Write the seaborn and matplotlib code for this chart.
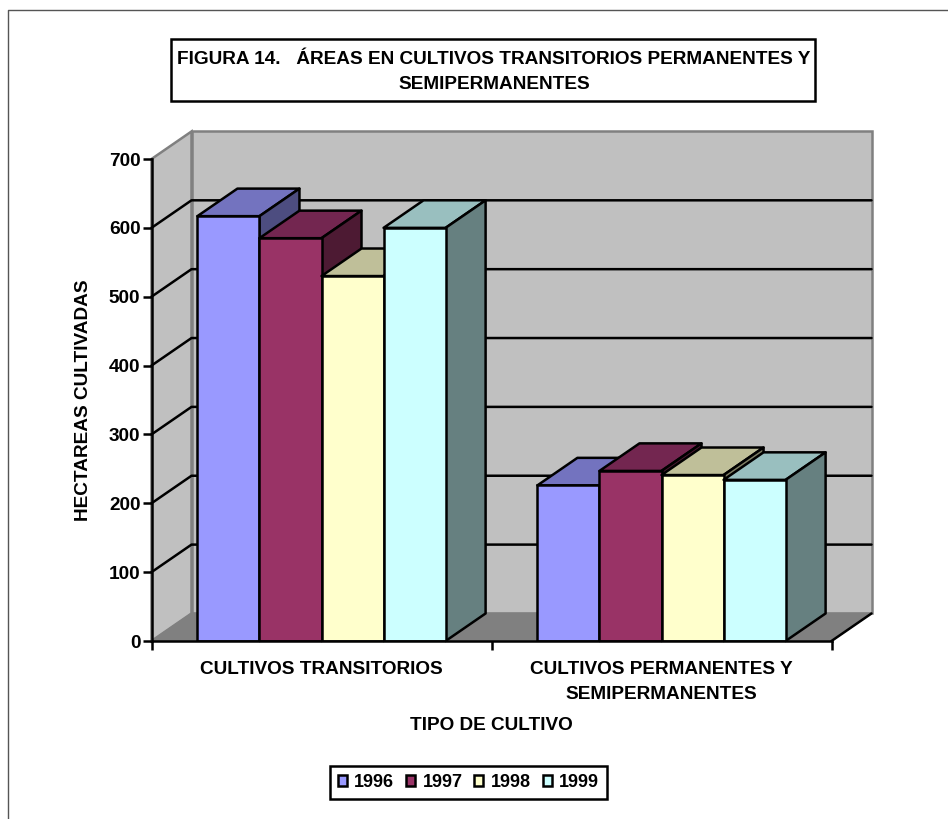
import matplotlib
matplotlib.use('Agg')
import matplotlib.pyplot as plt
from matplotlib.patches import Polygon, Rectangle
from matplotlib.lines import Line2D
import pandas as pd
import seaborn as sns

# values
cultivos = ['CULTIVOS TRANSITORIOS', 'CULTIVOS PERMANENTES Y\nSEMIPERMANENTES']
anios = ['1996', '1997', '1998', '1999']
valores_1996 = [617, 226]
valores_1997 = [585, 247]
valores_1998 = [530, 241]
valores_1999 = [600, 234]
y_ticks = [0, 100, 200, 300, 400, 500, 600, 700]

colores = ['#9999FF', '#993366', '#FFFFCC', '#CCFFFF']
colores_techo = ['#7373BF', '#732650', '#BFBF99', '#99BFBF']
colores_lado = ['#4D4D80', '#4D1A33', '#808066', '#668080']

sns.set_theme(style='white')
plt.rcParams['font.family'] = ['Liberation Sans', 'DejaVu Sans']
plt.rcParams['font.weight'] = 'bold'

rows = []
for anio, vals in zip(anios, [valores_1996, valores_1997, valores_1998, valores_1999]):
    for c, v in zip(cultivos, vals):
        rows.append({'cultivo': c, 'anio': anio, 'hectareas': v})
df = pd.DataFrame(rows)

W, H = 948, 819
LW = 1.8
FS = 13.7
fig = plt.figure(figsize=(W / 100, H / 100), dpi=100)
ax = fig.add_axes([151.5 / W, (H - 641) / H, 680 / W, 482 / H])

ax = sns.barplot(data=df, x='cultivo', y='hectareas', hue='anio', hue_order=anios,
                 order=cultivos, palette=colores, saturation=1, width=0.73,
                 edgecolor='black', linewidth=LW, ax=ax)
ax.set_xlim(-0.5, 1.5)
ax.set_ylim(0, 700)

# fake depth, same as the excel 3d look
dx = 40 / 340
dy = 40

x0, x1 = -0.5, 1.5
ax.add_patch(Polygon([(x0 + dx, dy), (x1 + dx, dy), (x1 + dx, 700 + dy), (x0 + dx, 700 + dy)],
                     closed=True, fc='#C0C0C0', ec='#808080', lw=LW, clip_on=False, zorder=0.5))
ax.add_patch(Polygon([(x0, 0), (x0 + dx, dy), (x0 + dx, 700 + dy), (x0, 700)],
                     closed=True, fc='#C0C0C0', ec='#808080', lw=LW, clip_on=False, zorder=0.5))
ax.add_patch(Polygon([(x0, 0), (x1, 0), (x1 + dx, dy), (x0 + dx, dy)],
                     closed=True, fc='#808080', ec='#808080', lw=1.0, clip_on=False, zorder=0.6))
ax.add_line(Line2D([x1, x1 + dx], [0, dy], color='black', lw=LW, clip_on=False, zorder=0.7))
for t in y_ticks[1:-1]:
    ax.add_line(Line2D([x0, x0 + dx, x1 + dx], [t, t + dy, t + dy], color='black', lw=LW,
                       clip_on=False, zorder=0.8))

# front faces come from seaborn, add top and side to each one
barras = []
for i, cont in enumerate(ax.containers):
    for p in cont:
        barras.append((p.get_x(), p, i))
barras.sort(key=lambda b: b[0])
for z, (x, p, i) in enumerate(barras):
    w = p.get_width()
    h = p.get_height()
    zo = 3 + z * 0.1
    p.set_zorder(zo + 0.02)
    ax.add_patch(Polygon([(x, h), (x + w, h), (x + w + dx, h + dy), (x + dx, h + dy)], closed=True,
                         fc=colores_techo[i], ec='black', lw=LW, joinstyle='round', clip_on=False, zorder=zo))
    ax.add_patch(Polygon([(x + w, 0), (x + w + dx, dy), (x + w + dx, h + dy), (x + w, h)], closed=True,
                         fc=colores_lado[i], ec='black', lw=LW, joinstyle='round', clip_on=False, zorder=zo))

sns.despine(ax=ax)
for s in ['left', 'bottom']:
    ax.spines[s].set_color('black')
    ax.spines[s].set_linewidth(LW)
    ax.spines[s].set_zorder(6)

ax.set_yticks(y_ticks)
ax.set_xticks([0, 1], labels=cultivos)
ax.set_xticks([-0.5, 0.5, 1.5], minor=True)
ax.tick_params(axis='y', left=True, length=6.5, width=LW, color='black', labelsize=FS, pad=1.5, labelcolor='black')
ax.tick_params(axis='x', which='major', bottom=False, length=0, labelsize=FS, pad=14.5, labelcolor='black')
ax.tick_params(axis='x', which='minor', bottom=True, length=6.5, width=LW, color='black')
for lab in ax.get_xticklabels() + ax.get_yticklabels():
    lab.set_fontweight('bold')
    lab.set_linespacing(1.6)

ax.set_xlabel('TIPO DE CULTIVO', fontsize=FS, fontweight='bold', color='black', labelpad=10)
ax.set_ylabel('HECTAREAS CULTIVADAS', fontsize=FS, fontweight='bold', color='black', labelpad=12)

# legend
handles, labels = ax.get_legend_handles_labels()
leg = ax.legend(handles, labels, ncol=4, loc='center', bbox_to_anchor=(468.5 / W, (H - 782.5) / H),
                bbox_transform=fig.transFigure, fancybox=False, framealpha=1, edgecolor='black',
                fontsize=13, handlelength=0.5, handleheight=0.5, handletextpad=0.42,
                columnspacing=0.65, borderpad=0.45, borderaxespad=0)
leg.get_frame().set_linewidth(LW)
leg.set_zorder(10)
for t in leg.get_texts():
    t.set_color('black')
    t.set_fontweight('bold')

# title box and the outer frame (only top and left show in the crop)
fig.add_artist(Rectangle((171 / W, (H - 101) / H), 644 / W, 62 / H, transform=fig.transFigure,
                         fc='white', ec='black', lw=LW))
fig.text(494 / W, (H - 72) / H,
         'FIGURA 14.   ÁREAS EN CULTIVOS TRANSITORIOS PERMANENTES Y\nSEMIPERMANENTES',
         ha='center', va='center', fontsize=FS, fontweight='bold', color='black', linespacing=1.6)
fig.add_artist(Line2D([8 / W, 8 / W, 1], [0, (H - 10) / H, (H - 10) / H], transform=fig.transFigure,
                      color='#555555', lw=1.0))

fig.savefig('out.png', dpi=100)
